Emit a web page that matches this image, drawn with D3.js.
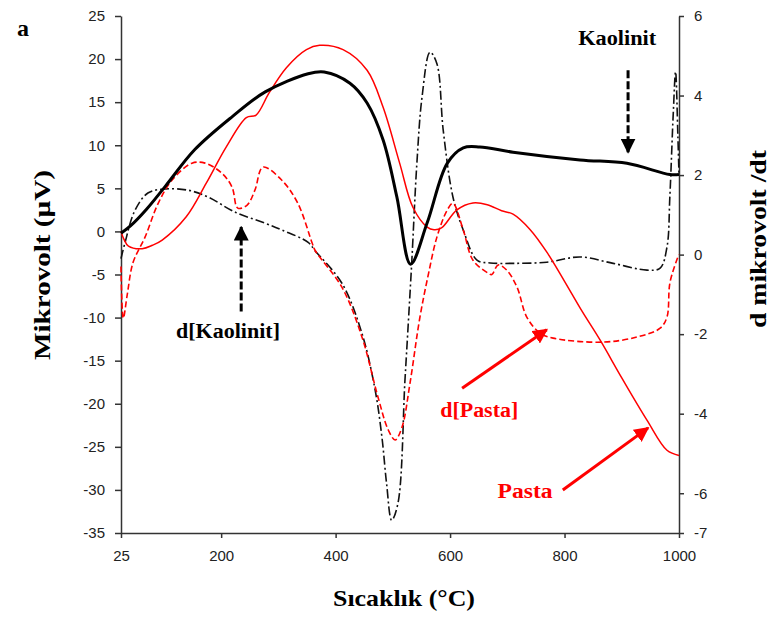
<!DOCTYPE html>
<html>
<head>
<meta charset="utf-8">
<script src="https://cdn.jsdelivr.net/npm/d3@7"></script>
<style>
  body { margin: 0; background: #fff; }
  svg { display: block; }
</style>
</head>
<body>
<div id="graph"></div>
<script>
// temperatures (°C) and readings
var tempKaolinit = [25, 41, 70, 102, 154, 219, 277, 352, 380, 425, 455, 483, 507, 531, 560, 595, 623, 652, 710, 827, 909, 984, 1000];
var kaolinit = [-0.2, 0.6, 2.6, 5.2, 9.5, 13.3, 16.2, 18.3, 18.5, 17.2, 14.9, 10.6, 4.0, -3.8, 1.0, 7.9, 9.7, 9.8, 9.2, 8.3, 7.9, 6.6, 6.6];

var tempPasta = [25, 30, 38, 62, 80, 97, 139, 174, 209, 244, 261, 284, 314, 349, 372, 413, 455, 483, 512, 535, 560, 572, 585, 612, 640, 665, 690, 710, 740, 770, 800, 830, 862, 900, 944, 979, 1000];
var pasta = [0, -0.9, -1.7, -2.0, -1.6, -1.0, 1.7, 5.6, 9.8, 13.2, 13.5, 16.1, 19.0, 21.1, 21.6, 21.1, 18.7, 14.4, 7.9, 2.8, 0.5, 0.2, 0.4, 2.5, 3.3, 3.1, 2.4, 2.0, 0.2, -2.5, -5.8, -9.2, -12.6, -17, -21.9, -25.4, -26];

var tempDKaolinit = [25, 32, 49, 72, 102, 142, 177, 224, 277, 306, 352, 364, 411, 446, 469, 481, 489, 498, 509, 521, 526, 533, 542, 551, 565, 577, 588, 605, 623, 647, 670, 710, 769, 827, 885, 944, 967, 979, 984, 990, 994, 998, 1000];
var dKaolinit = [-0.1, 0.3, 1.1, 1.55, 1.65, 1.62, 1.45, 1.07, 0.79, 0.62, 0.31, 0.1, -0.72, -1.98, -3.4, -4.6, -5.75, -6.68, -6.25, -3.2, -1.97, -0.2, 2.3, 3.96, 5.09, 4.8, 3.13, 1.45, 0.62, -0.14, -0.21, -0.22, -0.19, -0.06, -0.22, -0.39, -0.34, 0.19, 1.45, 3.56, 4.6, 3.0, 2.0];

var tempDPasta = [25, 29, 36, 46, 67, 90, 114, 149, 172, 201, 219, 229, 245, 259, 273, 306, 334, 359, 364, 411, 446, 474, 492, 504, 516, 530, 547, 562, 577, 595, 605, 623, 640, 667, 673, 684, 699, 717, 734, 757, 780, 867, 927, 967, 979, 984, 996, 1000];
var dPasta = [-0.3, -1.6, -1.0, -0.2, 0.44, 1.29, 1.87, 2.3, 2.3, 2.05, 1.7, 1.17, 1.24, 1.62, 2.2, 1.87, 1.29, 0.29, 0.11, -0.82, -2.07, -3.58, -4.41, -4.66, -4.34, -3.23, -1.6, -0.5, 0.44, 1.12, 1.29, 0.62, -0.14, -0.47, -0.5, -0.26, -0.39, -0.82, -1.57, -1.97, -2.1, -2.2, -2.07, -1.85, -1.57, -0.72, -0.14, 0];

var xTicks = [25, 200, 400, 600, 800, 1000];
var leftTicks = [25, 20, 15, 10, 5, 0, -5, -10, -15, -20, -25, -30, -35];
var rightTicks = [6, 4, 2, 0, -2, -4, -6, -7];

// label text, centre/baseline in data units (left axis), arrow tail and tip
var notes = [
  {text: "Kaolinit", color: "black", x: 892, y: 21.6, len: 78, from: [911, 18.7], to: [911, 9.2], dash: "8,3"},
  {text: "d[Kaolinit]", color: "black", x: 212, y: -12.4, len: 104, from: [235, -9.3], to: [235, 0.5], dash: "8,3"},
  {text: "d[Pasta]", color: "red", x: 651, y: -21.5, len: 78, from: [621, -18.2], to: [769, -11.4], dash: null},
  {text: "Pasta", color: "red", x: 731, y: -30.9, len: 55, from: [797, -30], to: [946, -22.8], dash: null}
];

var width = 770, height = 619;
var svg = d3.select("#graph").append("svg")
  .attr("width", width)
  .attr("height", height);

var x = d3.scaleLinear().domain([25, 1000]).range([121, 679]);
var yL = d3.scaleLinear().domain([-35, 25]).range([533, 16]);
var yR = d3.scaleLinear().domain([-7, 6]).range([533, 16]);

var tickFont = "'Liberation Sans', Arial, sans-serif";
var serif = "'Liberation Serif', 'Times New Roman', serif";

function styleAxis(g) {
  g.selectAll("path, line").attr("stroke", "#333").attr("stroke-width", 1.5);
  g.selectAll("text").attr("fill", "#222").style("font-family", tickFont).style("font-size", "15px");
}

// axes
svg.append("g")
  .attr("transform", "translate(0,533)")
  .call(d3.axisBottom(x).tickValues(xTicks).tickSize(5).tickSizeOuter(0).tickPadding(12).tickFormat(function (d) { return String(d); }))
  .call(styleAxis);

svg.append("g")
  .attr("transform", "translate(121,0)")
  .call(d3.axisLeft(yL).tickValues(leftTicks).tickSize(6).tickSizeOuter(0).tickPadding(10).tickFormat(function (d) { return String(d); }))
  .call(styleAxis);

svg.append("g")
  .attr("transform", "translate(679,0)")
  .call(d3.axisRight(yR).tickValues(rightTicks).tickSize(5).tickSizeOuter(0).tickPadding(10).tickFormat(function (d) { return String(d); }))
  .call(styleAxis);

// curves
function zipped(xs, ys) {
  return xs.map(function (t, i) { return [t, ys[i]]; });
}

function drawLine(pts, yScale, color, w, dash) {
  var line = d3.line()
    .x(function (d) { return x(d[0]); })
    .y(function (d) { return yScale(d[1]); })
    .curve(d3.curveCatmullRom.alpha(0.5));
  svg.append("path")
    .datum(pts)
    .attr("fill", "none")
    .attr("stroke", color)
    .attr("stroke-width", w)
    .attr("stroke-dasharray", dash)
    .attr("d", line);
}

drawLine(zipped(tempDKaolinit, dKaolinit), yR, "#111", 1.6, "9,3,2,3");
drawLine(zipped(tempDPasta, dPasta), yR, "red", 1.6, "6,3");
drawLine(zipped(tempPasta, pasta), yL, "red", 1.5, null);
drawLine(zipped(tempKaolinit, kaolinit), yL, "black", 3, null);

// arrow heads
var defs = svg.append("defs");
["black", "red"].forEach(function (c) {
  defs.append("marker")
    .attr("id", "head-" + c)
    .attr("viewBox", "0 0 10 10")
    .attr("refX", 9).attr("refY", 5)
    .attr("markerWidth", 5).attr("markerHeight", 5)
    .attr("markerUnits", "strokeWidth")
    .attr("orient", "auto")
    .append("path")
    .attr("d", "M0,0L10,5L0,10Z")
    .attr("fill", c);
});

notes.forEach(function (n) {
  svg.append("line")
    .attr("x1", x(n.from[0])).attr("y1", yL(n.from[1]))
    .attr("x2", x(n.to[0])).attr("y2", yL(n.to[1]))
    .attr("stroke", n.color)
    .attr("stroke-width", 3)
    .attr("stroke-dasharray", n.dash)
    .attr("marker-end", "url(#head-" + n.color + ")");
  svg.append("text")
    .attr("x", x(n.x)).attr("y", yL(n.y))
    .attr("text-anchor", "middle")
    .attr("fill", n.color)
    .attr("textLength", n.len)
    .attr("lengthAdjust", "spacingAndGlyphs")
    .style("font-family", serif)
    .style("font-weight", "bold")
    .style("font-size", "20px")
    .text(n.text);
});

// titles
svg.append("text")
  .attr("x", 17).attr("y", 36)
  .style("font-family", serif).style("font-weight", "bold").style("font-size", "24px")
  .text("a");

svg.append("text")
  .attr("transform", "translate(50,265) rotate(-90)")
  .attr("text-anchor", "middle")
  .attr("textLength", 190)
  .attr("lengthAdjust", "spacingAndGlyphs")
  .style("font-family", serif).style("font-weight", "bold").style("font-size", "23px")
  .text("Mikrovolt (µV)");

svg.append("text")
  .attr("transform", "translate(766,239) rotate(-90)")
  .attr("text-anchor", "middle")
  .attr("textLength", 178)
  .attr("lengthAdjust", "spacingAndGlyphs")
  .style("font-family", serif).style("font-weight", "bold").style("font-size", "23px")
  .text("d mikrovolt /dt");

svg.append("text")
  .attr("x", 404).attr("y", 606)
  .attr("text-anchor", "middle")
  .attr("textLength", 142)
  .attr("lengthAdjust", "spacingAndGlyphs")
  .style("font-family", serif).style("font-weight", "bold").style("font-size", "23px")
  .text("Sıcaklık (°C)");
</script>
</body>
</html>
